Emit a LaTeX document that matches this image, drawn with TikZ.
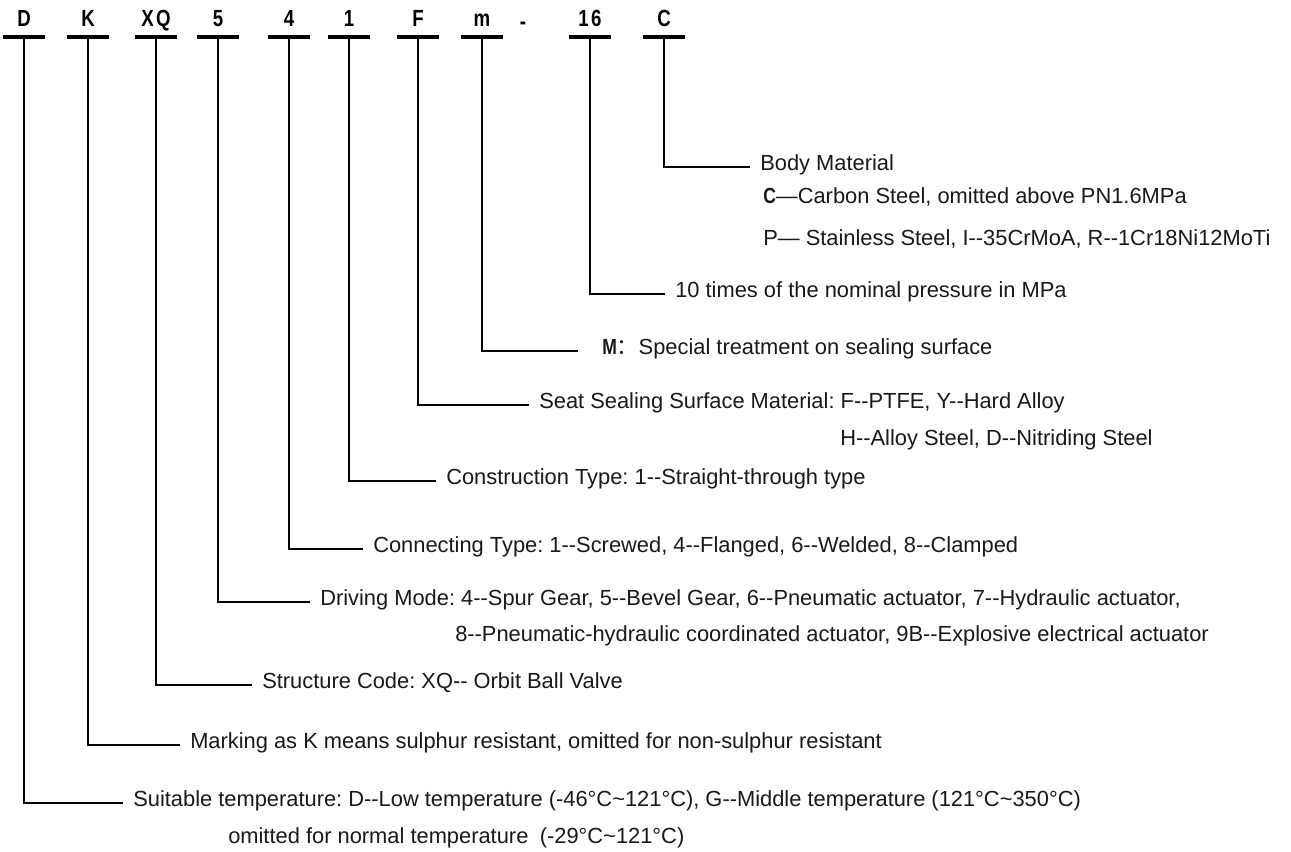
\documentclass[tikz,border=0pt]{standalone}
\usepackage{fontspec}
\setmainfont{Liberation Sans}
\newfontfamily\descfont{Liberation Sans}
\newfontfamily\codefont[FakeStretch=0.8,LetterSpace=10]{Liberation Sans}
\newfontfamily\cjkfont{Noto Sans CJK SC}
\newcommand\tld{\char"7E\relax}
\usetikzlibrary{positioning}
\frenchspacing

\begin{document}
\begin{tikzpicture}
	[x=0.75pt, y=-0.75pt,
	code/.style={anchor=south, font={\codefont\bfseries\fontsize{17.5pt}{19pt}\selectfont}, minimum width=31.5pt, inner xsep=0pt, inner ysep=7.5pt, text height=12pt, text depth=0pt},
	bar/.style={line width=2.4pt},
	lead/.style={line width=1.3pt},
	desc/.style={anchor=mid west, font={\descfont\fontsize{16.4pt}{20pt}\selectfont}, inner xsep=7.5pt, inner ysep=0pt, text=black!90}]
	\useasboundingbox (0,0) rectangle (1291,852);
	% model code
	\node[code] (c_D)  at (24,37)  {D};
	\node[code] (c_K)  at (88,37)  {K};
	\node[code] (c_XQ) at (156,37) {XQ};
	\node[code] (c_5)  at (218,37) {5};
	\node[code] (c_4)  at (289,37) {4};
	\node[code] (c_1)  at (349,37) {1};
	\node[code] (c_F)  at (418,37) {F};
	\node[code] (c_m)  at (482,37) {m};
	\node[code, minimum width=0pt] (c_dash) at (523,40) {-};
	\node[code] (c_16) at (590,37) {16};
	\node[code] (c_C)  at (664,37) {C};

	% meanings
	\node[desc] (t_C) at (750,167) {Body Material};
	\node[desc, inner xsep=0pt] (t_C1) at (763,200) {{\codefont\bfseries C}—Carbon Steel, omitted above PN1.6MPa};
	\node[desc, inner xsep=0pt] (t_C2) at (763,242) {P— Stainless Steel, I--35CrMoA, R--1Cr18Ni12MoTi};
	\node[desc] (t_16) at (665,294) {10 times of the nominal pressure in MPa};
	\node[desc, inner xsep=18pt] (t_m) at (578,351) {{\codefont\bfseries M}{\cjkfont ：}Special treatment on sealing surface};
	\node[desc] (t_F) at (529,405) {Seat Sealing Surface Material: F--PTFE, Y--Hard Alloy};
	\node[desc, inner xsep=0pt] (t_F2) at (840,442) {H--Alloy Steel, D--Nitriding Steel};
	\node[desc] (t_1) at (436,481) {Construction Type: 1--Straight-through type};
	\node[desc] (t_4) at (363,549) {Connecting Type: 1--Screwed, 4--Flanged, 6--Welded, 8--Clamped};
	\node[desc] (t_5) at (310,602) {Driving Mode: 4--Spur Gear, 5--Bevel Gear, 6--Pneumatic actuator, 7--Hydraulic actuator,};
	\node[desc, inner xsep=0pt] (t_52) at (455,638) {8--Pneumatic-hydraulic coordinated actuator, 9B--Explosive electrical actuator};
	\node[desc] (t_XQ) at (252,685) {Structure Code: XQ-- Orbit Ball Valve};
	\node[desc] (t_K) at (180,745) {Marking as K means sulphur resistant, omitted for non-sulphur resistant};
	\node[desc] (t_D) at (123,803) {Suitable temperature: D--Low temperature (-46°C\tld121°C), G--Middle temperature (121°C\tld350°C)};
	\node[desc, inner xsep=0pt] (t_D2) at (228,840) {omitted for normal temperature\hspace{4pt} (-29°C\tld121°C)};

	% bars and leaders
	\foreach \c in {D,K,XQ,5,4,1,F,m,16,C}
		\draw[bar] (c_\c.south west) -- (c_\c.south east);
	\foreach \c in {D,K,XQ,5,4,1,F,m,16,C}
		\draw[lead] (c_\c.south) |- (t_\c.mid west);
\end{tikzpicture}
\end{document}
